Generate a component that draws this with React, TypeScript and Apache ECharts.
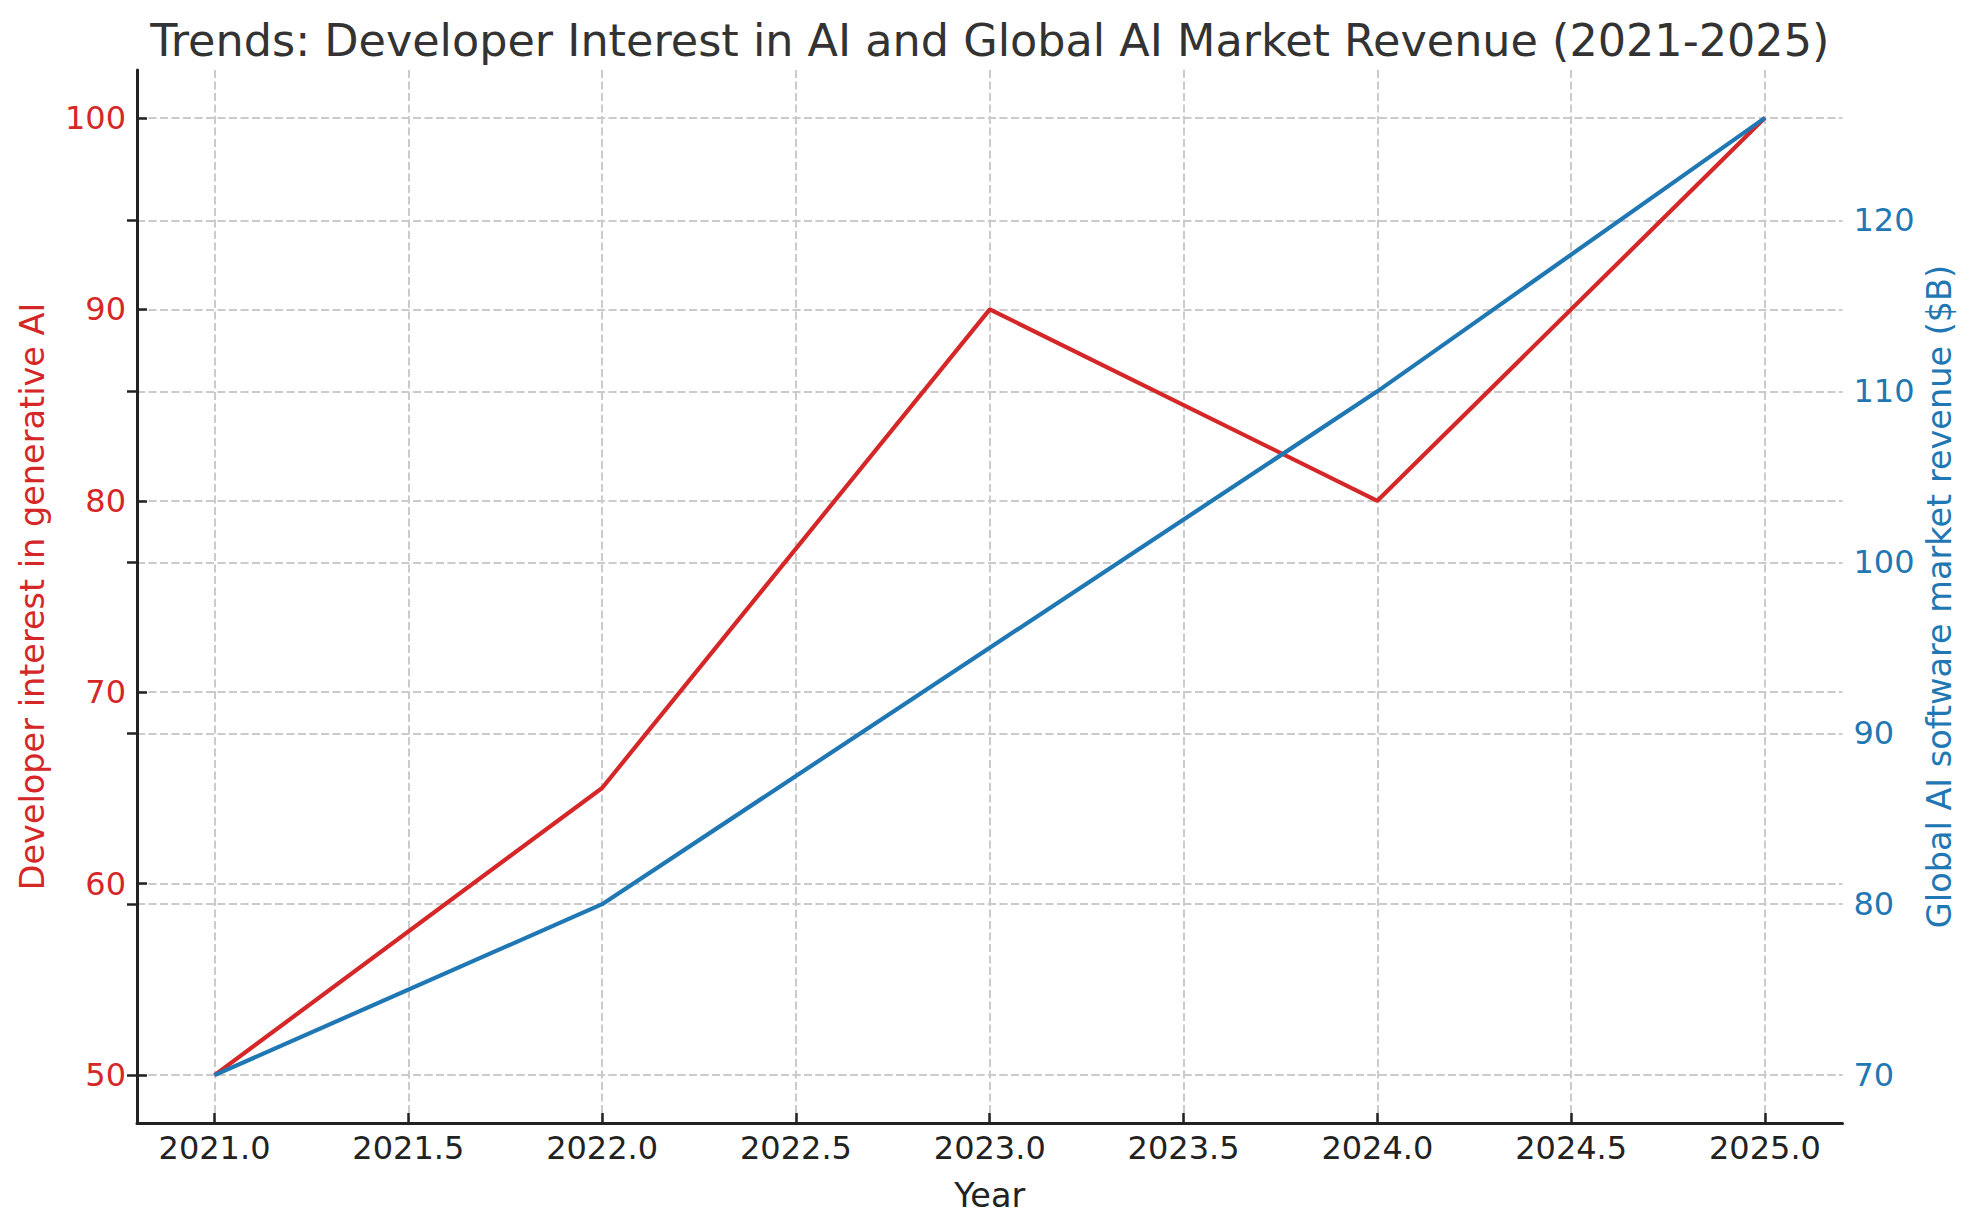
import React, { useEffect, useRef } from "react";
import * as echarts from "echarts";

// ---- data ----
const years = [2021, 2022, 2023, 2024, 2025];
const developerInterest = [50, 65, 90, 80, 100];
const marketRevenue = [70, 80, 95, 110, 126];
const xTickStep = 0.5;
const leftTickStep = 10;
const rightTickStep = 10;

const TITLE = "Trends: Developer Interest in AI and Global AI Market Revenue (2021-2025)";
const X_NAME = "Year";
const LEFT_NAME = "Developer interest in generative AI";
const RIGHT_NAME = "Global AI software market revenue ($B)";

// ---- layout ----
const W = 1980;
const H = 1230;
const plotLeft = 137;
const plotRight = 1842.5;
const plotTop = 70;
const plotBottom = 1123;
const RED = "#d62728";
const BLUE = "#1f77b4";
const INK = "#222222";
const FONT = "DejaVu Sans";
const GRID_COLOR = "#cbcbcb";
const TICK_FONT = 32;
const LABEL_FONT = 33.5;

function viewLimits(arr: number[]): [number, number] {
  const mn = Math.min(...arr);
  const mx = Math.max(...arr);
  const m = (mx - mn) * 0.05;
  return [mn - m, mx + m];
}
function tickRange(lim: [number, number], step: number): [number, number] {
  const eps = 1e-9;
  return [Math.ceil(lim[0] / step - eps) * step, Math.floor(lim[1] / step + eps) * step];
}

export default function App() {
  const ref = useRef<HTMLDivElement>(null);
  useEffect(() => {
    if (!ref.current) return;
    const chart = echarts.init(ref.current, undefined, { renderer: "svg" });

    const xLim = viewLimits(years);
    const lLim = viewLimits(developerInterest);
    const rLim = viewLimits(marketRevenue);
    const xT = tickRange(xLim, xTickStep);
    const lT = tickRange(lLim, leftTickStep);
    const rT = tickRange(rLim, rightTickStep);

    const pw = plotRight - plotLeft;
    const ph = plotBottom - plotTop;
    const px = (v: number) => plotLeft + ((v - xLim[0]) / (xLim[1] - xLim[0])) * pw;
    const pyL = (v: number) => plotBottom - ((v - lLim[0]) / (lLim[1] - lLim[0])) * ph;
    const pyR = (v: number) => plotBottom - ((v - rLim[0]) / (rLim[1] - rLim[0])) * ph;

    const hiddenAxis = (gridIndex: number) => ({ type: "value", gridIndex, show: false });
    const splitLine = {
      show: true,
      lineStyle: { color: GRID_COLOR, width: 2, type: [8, 3.5] },
    };
    const tickStyle = { show: true, inside: true, length: 10, lineStyle: { color: INK, width: 2.5 } };

    const option: any = {
      animation: false,
      backgroundColor: "#ffffff",
      textStyle: { fontFamily: FONT },
      title: {
        text: TITLE,
        left: (plotLeft + plotRight) / 2,
        textAlign: "center",
        top: 18,
        padding: 0,
        textStyle: { fontFamily: FONT, fontSize: 44.5, fontWeight: "normal", color: "#333333" },
      },
      grid: [
        { left: plotLeft, right: W - plotRight, top: plotTop, bottom: H - plotBottom },
        { left: px(xT[0]), right: W - px(xT[1]), top: plotTop, bottom: H - plotBottom },
        { left: plotLeft, right: W - plotRight, top: pyL(lT[1]), bottom: H - pyL(lT[0]) },
        { left: plotLeft, right: W - plotRight, top: pyR(rT[1]), bottom: H - pyR(rT[0]) },
      ],
      xAxis: [
        {
          type: "value",
          gridIndex: 0,
          min: xLim[0],
          max: xLim[1],
          axisLine: { show: true, lineStyle: { color: INK, width: 3 } },
          axisTick: { show: false },
          axisLabel: { show: false },
          splitLine: { show: false },
          name: X_NAME,
          nameLocation: "middle",
          nameGap: 55,
          nameTextStyle: { fontFamily: FONT, fontSize: LABEL_FONT, color: INK },
          z: 5,
        },
        {
          type: "value",
          gridIndex: 1,
          min: xT[0],
          max: xT[1],
          interval: xTickStep,
          axisLine: { show: false },
          axisTick: tickStyle,
          axisLabel: {
            show: true,
            margin: 9,
            color: INK,
            fontFamily: FONT,
            fontSize: TICK_FONT,
            formatter: (v: number) => v.toFixed(1),
          },
          splitLine,
          z: 1,
        },
        hiddenAxis(2),
        hiddenAxis(3),
      ],
      yAxis: [
        {
          type: "value",
          gridIndex: 0,
          position: "left",
          min: lLim[0],
          max: lLim[1],
          axisLine: { show: true, lineStyle: { color: INK, width: 3 } },
          axisTick: { show: false },
          axisLabel: { show: false },
          splitLine: { show: false },
          name: LEFT_NAME,
          nameLocation: "middle",
          nameGap: 88,
          nameRotate: 90,
          nameTextStyle: { fontFamily: FONT, fontSize: LABEL_FONT, color: RED },
          z: 5,
        },
        {
          type: "value",
          gridIndex: 0,
          position: "right",
          min: rLim[0],
          max: rLim[1],
          axisLine: { show: false },
          axisTick: { show: false },
          axisLabel: { show: false },
          splitLine: { show: false },
          name: RIGHT_NAME,
          nameLocation: "middle",
          nameGap: 80,
          nameRotate: 90,
          nameTextStyle: { fontFamily: FONT, fontSize: LABEL_FONT, color: BLUE },
        },
        hiddenAxis(1),
        {
          type: "value",
          gridIndex: 2,
          position: "left",
          min: lT[0],
          max: lT[1],
          interval: leftTickStep,
          axisLine: { show: false },
          axisTick: tickStyle,
          axisLabel: { show: true, margin: 11, color: RED, fontFamily: FONT, fontSize: TICK_FONT },
          splitLine,
          z: 1,
        },
        {
          type: "value",
          gridIndex: 3,
          position: "right",
          min: rT[0],
          max: rT[1],
          interval: rightTickStep,
          axisLine: { show: false },
          axisTick: tickStyle,
          axisLabel: { show: true, margin: 11, color: BLUE, fontFamily: FONT, fontSize: TICK_FONT },
          splitLine,
          z: 1,
        },
      ],
      series: [
        {
          name: LEFT_NAME,
          type: "line",
          xAxisIndex: 0,
          yAxisIndex: 0,
          data: years.map((y, i) => [y, developerInterest[i]]),
          showSymbol: false,
          symbol: "none",
          lineStyle: { color: RED, width: 4.2 },
          itemStyle: { color: RED },
          z: 10,
        },
        {
          name: RIGHT_NAME,
          type: "line",
          xAxisIndex: 0,
          yAxisIndex: 1,
          data: years.map((y, i) => [y, marketRevenue[i]]),
          showSymbol: false,
          symbol: "none",
          lineStyle: { color: BLUE, width: 4.2 },
          itemStyle: { color: BLUE },
          z: 11,
        },
      ],
    };
    chart.setOption(option);
    return () => chart.dispose();
  }, []);
  return (
    <div
      ref={ref}
      style={{ position: "fixed", left: 0, top: 0, width: W, height: H, background: "#fff" }}
    />
  );
}
